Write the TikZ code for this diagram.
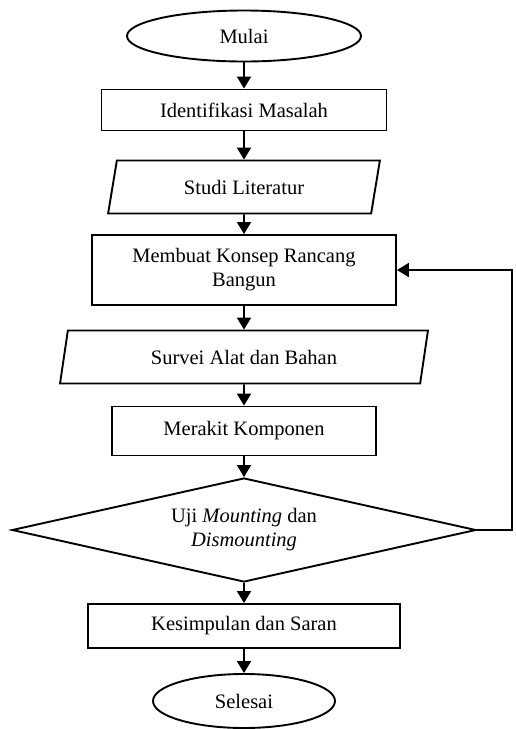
\documentclass[tikz,border=0pt]{standalone}
\usepackage{fontspec}
\setmainfont{Liberation Serif}
\usetikzlibrary{shapes.geometric,arrows.meta}

\begin{document}
\begin{tikzpicture}[x=1pt,y=-1pt,
  every node/.style={font=\fontsize{20.5}{24}\selectfont,align=center,inner sep=0pt,line width=1.9pt},
  terminal/.style={draw,ellipse},
  proses/.style={draw,rectangle},
  masukan/.style={draw,trapezium,trapezium left angle=74,trapezium right angle=106,trapezium stretches=true},
  keputusan/.style={draw,diamond,shape aspect=4.46},
  panah/.style={-{Triangle[width=14pt,length=12pt]},line width=1.9pt}]
\useasboundingbox (0,0) rectangle (515,729);
\node[terminal,minimum width=234,minimum height=51] (mulai) at (244,36) {Mulai};
\node[proses,minimum width=285,minimum height=41] (identifikasi) at (244,110) {Identifikasi Masalah};
\node[masukan,minimum width=272,minimum height=53] (studi) at (244,187) {Studi Literatur};
\node[proses,minimum width=304,minimum height=70] (konsep) at (244,270) {Membuat Konsep Rancang\\Bangun};
\node[masukan,minimum width=368,minimum height=53] (survei) at (244,357) {Survei Alat dan Bahan};
\node[proses,minimum width=264,minimum height=49] (merakit) at (244,431) {Merakit Komponen};
\node[keputusan,minimum width=464,minimum height=104] (uji) at (244,530) {Uji \textit{Mounting} dan\\\textit{Dismounting}};
\node[proses,minimum width=312,minimum height=44] (kesimpulan) at (244,626) {Kesimpulan dan Saran};
\node[terminal,minimum width=182,minimum height=54] (selesai) at (244,701) {Selesai};
\coordinate (balik) at (512,270);
% alur utama
\draw[panah] (mulai) -- (identifikasi);
\draw[panah] (identifikasi) -- (studi);
\draw[panah] (studi) -- (konsep);
\draw[panah] (konsep) -- (survei);
\draw[panah] (survei) -- (merakit);
\draw[panah] (merakit) -- (uji);
\draw[panah] (uji) -- (kesimpulan);
\draw[panah] (kesimpulan) -- (selesai);
% kembali ke konsep
\draw[panah] (uji.east) -| (balik) -- (konsep.east);
\end{tikzpicture}
\end{document}
